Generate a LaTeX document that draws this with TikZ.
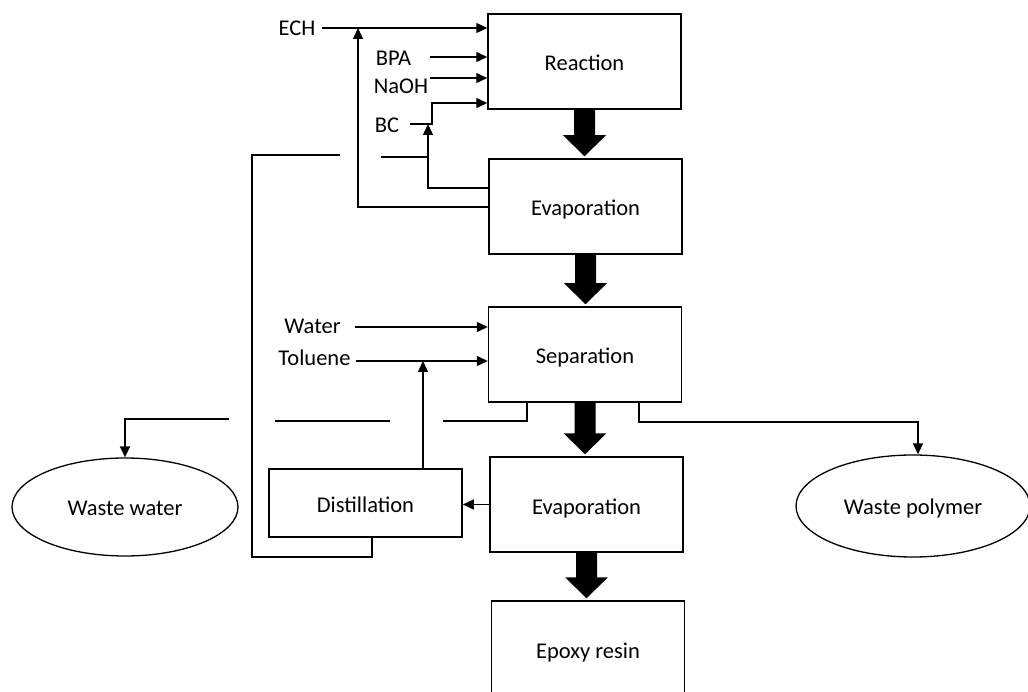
\documentclass[tikz,border=0pt]{standalone}
\usepackage{fontspec}
\setmainfont{Carlito}
\usetikzlibrary{arrows.meta,calc,shapes.geometric}

% thick block arrow between two stacked process boxes
\newcommand\bigflow[2]{%
  \path (#1) coordinate (fa) ($(#1 |- #2)+(0,-2)$) coordinate (fb);
  \fill (fa) ++(-10.5,0) -- ($(fb)+(-10.5,-21)$) -- ($(fb)+(-21.5,-21)$) -- (fb)
        -- ($(fb)+(21.5,-21)$) -- ($(fb)+(10.5,-21)$) -- ($(fa)+(10.5,0)$) -- cycle;}

\begin{document}
\begin{tikzpicture}[x=1pt,y=-1pt,
  font=\fontsize{22.5}{26}\selectfont,
  line width=1.4pt,
  box/.style={draw, line width=1.5pt, minimum width=193pt, minimum height=95pt, inner sep=0pt,
              text height=21pt, text depth=2pt},
  sink/.style={draw, ellipse, line width=1.3pt, inner sep=0pt, text height=20pt, text depth=3pt},
  lbl/.style={inner sep=0pt},
  arr/.style={-{Triangle[length=11pt,width=10pt]}}]
\useasboundingbox (0,0) rectangle (1028,692);
\clip (0,0) rectangle (1028,692);

% process boxes
\node[box] (react) at (584.5,61.5) {Reaction};
\node[box] (evapA) at (585.5,206.5) {Evaporation};
\node[box] (sep)   at (585,354.5) {Separation};
\node[box] (evapB) at (586.5,504.5) {Evaporation};
\node[box] (epoxy) at (588,648.5) {Epoxy resin};
\node[box, minimum height=68pt] (distil) at (365.5,503) {Distillation};

% waste streams
\node[sink, minimum width=226pt, minimum height=98pt]  (ww) at (125,507) {Waste water};
\node[sink, minimum width=234pt, minimum height=102pt] (wp) at (913,506) {Waste polymer};

% feed labels
\node[lbl] (ech)  at (297,28)  {ECH};
\node[lbl] (bpa)  at (393.5,58) {BPA};
\node[lbl] (naoh) at (401,86)  {NaOH};
\node[lbl] (bc)   at (387,125) {BC};
\node[lbl] (water) at (312.5,326) {Water};
\node[lbl] (tol)  at (314.5,358) {Toluene};

% line ends
\coordinate (echS) at (322,28);
\coordinate (bpaS) at (430,57);
\coordinate (naoS) at (430,78);
\coordinate (bcS)  at (410,124);
\coordinate (bcK)  at (432,124);
\coordinate (bcT)  at (432,103);
\coordinate (echJ) at (358,28);
\coordinate (bcJ)  at (428,124);
\coordinate (stubS) at (381,157);
\coordinate (stubE) at (428,157);
\coordinate (loopS) at (340,155);
\coordinate (loopC) at (252,557);
\coordinate (watS) at (355,327);
\coordinate (tolS) at (356,361);
\coordinate (tolJ) at (423,361);
\coordinate (wsA) at (275,421);
\coordinate (wsB) at (390,421);
\coordinate (wsC) at (443,421);
\coordinate (wwS) at (229,419);
\coordinate (wpK) at (918,422);

% main flow
\bigflow{react.south}{evapA.north}
\bigflow{evapA.south}{sep.north}
\bigflow{sep.south}{evapB.north}
\bigflow{evapB.south}{epoxy.north}

% feeds into reaction
\draw[arr] (echS) -- (echS -| react.west);
\draw[arr] (bpaS) -- (bpaS -| react.west);
\draw[arr] (naoS) -- (naoS -| react.west);
\draw[arr] (bcS) -- (bcK) -- (bcT) -- (bcT -| react.west);

% recycle from first evaporation
\draw[arr] (evapA.west |- 0,207) -| (echJ);
\draw[arr] (evapA.west |- 0,188) -| (bcJ);
\draw (stubS) -- (stubE);
\draw (loopS) -| (loopC) -| (distil.south -| 372,0);

% feeds into separation
\draw[arr] (watS) -- (watS -| sep.west);
\draw[arr] (tolS) -- (tolS -| sep.west);
\draw[arr] (distil.north -| tolJ) -- (tolJ);

% separation outlets
\draw (sep.south -| 527,0) |- (wsC);
\draw (wsA) -- (wsB);
\draw[arr] (wwS) -| (ww.north);
\draw[arr] (sep.south -| 639,0) |- (wpK) -- (wp.north -| wpK);

% second evaporation to distillation
\draw[arr] (evapB.west) -- (evapB.west -| distil.east);
\end{tikzpicture}
\end{document}
